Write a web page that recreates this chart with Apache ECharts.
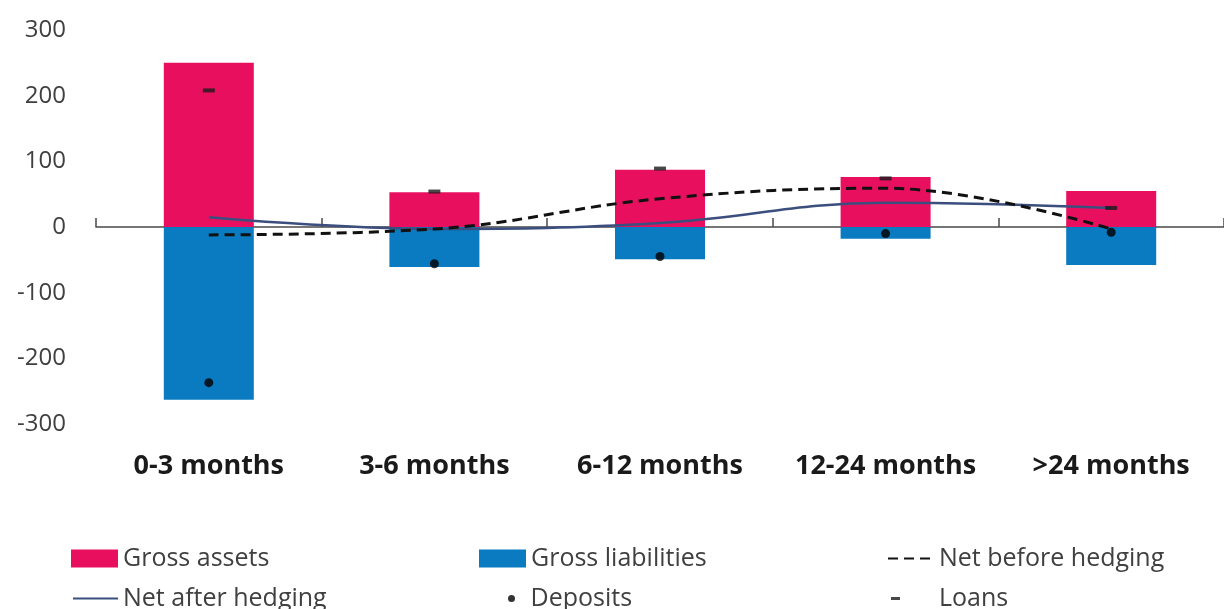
<!DOCTYPE html>
<html>
<head>
<meta charset="utf-8">
<script src="https://cdn.jsdelivr.net/npm/echarts@6/dist/echarts.min.js"></script>
<style>
  html, body { margin: 0; padding: 0; background: #fff; }
  #chart { width: 1224px; height: 609px; }
</style>
</head>
<body>
<div id="chart"></div>
<script>
// Maturity buckets
const categories = ['0-3 months', '3-6 months', '6-12 months', '12-24 months', '>24 months'];

// Values per bucket
const grossAssets      = [250, 53, 87, 76, 55];
const grossLiabilities = [-263, -61, -49, -18, -58];
const netBeforeHedging = [-12, -3, 43, 59, -3];
const netAfterHedging  = [15, -3, 6, 37, 29];
const deposits         = [-237, -56, -45, -10, -8];
const loans            = [208, 54, 89, 74, 29];

const yTicks = { min: -300, max: 300, interval: 100 };

const FONT = '"Open Sans", sans-serif';
const TEXT_GREY = '#404040';
const PINK = '#E8105E';
const BLUE = '#0A7BC1';
const NAVY = '#3B4E7E';

const chart = echarts.init(document.getElementById('chart'), null, { renderer: 'canvas' });

const legendText = { fontFamily: FONT, fontSize: 25, color: TEXT_GREY };
// line legends show only the stroke, no point symbol
const hiddenSymbol = { color: 'transparent', opacity: 0, borderWidth: 0 };
const legendBase = { padding: 0, textStyle: legendText };

chart.setOption({
  animation: false,
  backgroundColor: '#ffffff',
  grid: { left: 96, top: 30, width: 1135, height: 394, containLabel: false },
  xAxis: [
    {
      type: 'category',
      data: categories,
      boundaryGap: true,
      axisLine: { onZero: true, lineStyle: { color: '#4a4a4a', width: 1.5 } },
      axisTick: { show: true, inside: true, length: 9, lineStyle: { color: '#4a4a4a', width: 1.5 } },
      axisLabel: { show: false },
      splitLine: { show: false }
    },
    {
      type: 'category',
      data: categories,
      position: 'bottom',
      axisLine: { show: false, onZero: false },
      axisTick: { show: false },
      axisLabel: {
        show: true, interval: 0, hideOverlap: false, margin: 29,
        fontFamily: FONT, fontWeight: 'bold', fontSize: 27, color: '#1a1a1a'
      },
      splitLine: { show: false }
    }
  ],
  yAxis: {
    type: 'value',
    min: yTicks.min, max: yTicks.max, interval: yTicks.interval,
    axisLine: { show: false },
    axisTick: { show: false },
    splitLine: { show: false },
    axisLabel: { margin: 30, fontFamily: FONT, fontSize: 24, color: TEXT_GREY }
  },
  legend: [
    Object.assign({}, legendBase, { data: [{ name: 'Gross assets', icon: 'rect' }],
      left: 71, top: 546, itemWidth: 47, itemHeight: 18 }),
    Object.assign({}, legendBase, { data: [{ name: 'Net after hedging', itemStyle: hiddenSymbol }],
      left: 72, top: 586, itemWidth: 45, itemHeight: 14 }),
    Object.assign({}, legendBase, { data: [{ name: 'Gross liabilities', icon: 'rect' }],
      left: 479, top: 546, itemWidth: 47, itemHeight: 18 }),
    Object.assign({}, legendBase, { data: [{ name: 'Deposits', icon: 'circle' }],
      left: 508, top: 586, itemWidth: 8, itemHeight: 7,
      textStyle: Object.assign({}, legendText, { padding: [0, 0, 0, 10] }) }),
    Object.assign({}, legendBase, { data: [{ name: 'Net before hedging', itemStyle: hiddenSymbol }],
      left: 887, top: 546, itemWidth: 46, itemHeight: 18 }),
    Object.assign({}, legendBase, { data: [{ name: 'Loans', icon: 'rect' }],
      left: 891, top: 586, itemWidth: 9, itemHeight: 3,
      textStyle: Object.assign({}, legendText, { padding: [0, 0, 0, 34] }) })
  ],
  series: [
    {
      name: 'Gross assets', type: 'bar', data: grossAssets,
      barWidth: 90, barGap: '-100%', itemStyle: { color: PINK }, z: 2
    },
    {
      name: 'Gross liabilities', type: 'bar', data: grossLiabilities,
      barWidth: 90, barGap: '-100%', itemStyle: { color: BLUE }, z: 2
    },
    {
      name: 'Net before hedging', type: 'line', data: netBeforeHedging,
      smooth: 0.4, symbol: 'none', z: 4,
      lineStyle: { color: '#111111', width: 3, type: [10, 6] },
      itemStyle: { color: '#111111' }
    },
    {
      name: 'Net after hedging', type: 'line', data: netAfterHedging,
      smooth: 0.4, symbol: 'none', z: 3,
      lineStyle: { color: NAVY, width: 2.5 },
      itemStyle: { color: NAVY }
    },
    {
      name: 'Deposits', type: 'scatter', data: deposits,
      symbol: 'circle', symbolSize: 9, itemStyle: { color: '#000000' }, z: 5
    },
    {
      name: 'Loans', type: 'scatter', data: loans,
      symbol: 'rect', symbolSize: [12, 4], itemStyle: { color: '#1a1a1a' }, z: 5
    }
  ]
});
</script>
</body>
</html>
